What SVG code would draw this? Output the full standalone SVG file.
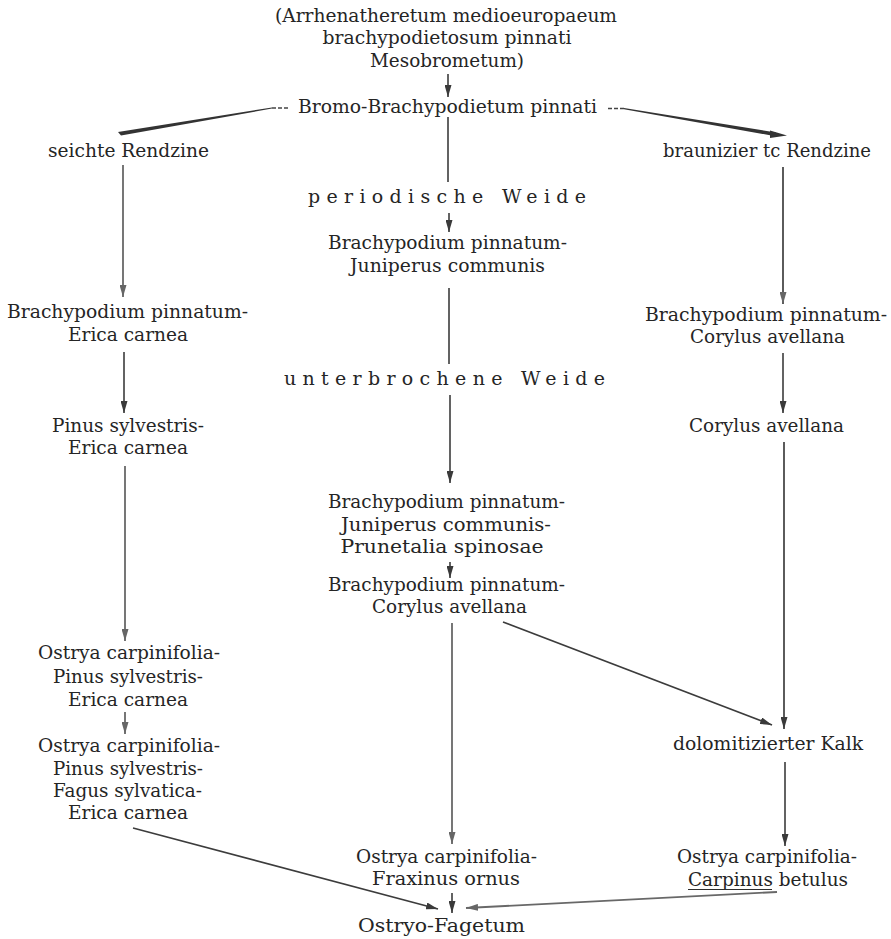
<svg xmlns="http://www.w3.org/2000/svg" width="891" height="939" viewBox="0 0 891 939">
<defs>
<style>
text{font-family:"DejaVu Serif","Liberation Serif",serif;font-size:19px;fill:#252525;text-anchor:middle}
.c{stroke:#3c3c3c;stroke-width:1.6;fill:none}
.l{stroke:#686868;stroke-width:1.8;fill:none}
.r{stroke:#4a4a4a;stroke-width:1.8;fill:none}
.w{fill:#333;stroke:none}
</style>
<marker id="ah" markerUnits="userSpaceOnUse" markerWidth="13" markerHeight="7" refX="12" refY="3.5" orient="auto">
<path d="M0,0 L12,3.5 L0,7 z" fill="#3a3a3a"/>
</marker>
<marker id="ahl" markerUnits="userSpaceOnUse" markerWidth="13" markerHeight="7" refX="12" refY="3.5" orient="auto">
<path d="M0,0 L12,3.5 L0,7 z" fill="#666"/>
</marker>
</defs>
<rect width="891" height="939" fill="#ffffff"/>

<g id="connectors">
<line class="c" x1="448" y1="74" x2="448" y2="97" marker-end="url(#ah)"/>
<line x1="272" y1="108" x2="288" y2="108" stroke="#444" stroke-width="1.3" stroke-dasharray="4,2"/>
<polygon class="w" points="272,107.4 272,108.6 121,135.5 118,132"/>
<line x1="608" y1="108.5" x2="624" y2="108.5" stroke="#444" stroke-width="1.3" stroke-dasharray="4,2"/>
<polygon class="w" points="624,108 624,109.2 774,136 776,132.5"/>
<polygon class="w" points="770,130.5 787,135.5 770,138"/>
<line class="c" x1="448" y1="117" x2="448" y2="182"/>
<line class="c" x1="449" y1="213" x2="449" y2="232" marker-end="url(#ah)"/>
<line class="c" x1="449" y1="288" x2="449" y2="364"/>
<line class="c" x1="450" y1="395" x2="450" y2="483" marker-end="url(#ah)"/>
<line class="c" x1="450" y1="562" x2="450" y2="578" marker-end="url(#ah)"/>
<line class="l" x1="452" y1="623" x2="452" y2="844" marker-end="url(#ahl)"/>
<line class="c" x1="503" y1="622" x2="772" y2="725" marker-end="url(#ah)"/>
<line class="l" x1="123" y1="165" x2="123" y2="297" marker-end="url(#ahl)"/>
<line class="c" x1="124" y1="352" x2="124" y2="413" marker-end="url(#ah)"/>
<line class="l" x1="125" y1="466" x2="125" y2="641" marker-end="url(#ahl)"/>
<line class="l" x1="125" y1="712" x2="125" y2="734" marker-end="url(#ahl)"/>
<line class="c" x1="133" y1="828" x2="438" y2="909" marker-end="url(#ah)"/>
<line class="r" x1="783" y1="167" x2="783" y2="304" marker-end="url(#ahl)"/>
<line class="c" x1="783" y1="353" x2="783" y2="413" marker-end="url(#ah)"/>
<line class="r" x1="784" y1="442" x2="784" y2="729" marker-end="url(#ah)"/>
<line class="c" x1="785" y1="762" x2="785" y2="846" marker-end="url(#ah)"/>
<line class="l" x1="777" y1="892" x2="466" y2="908" marker-end="url(#ahl)"/>
<line class="c" x1="452" y1="893" x2="452" y2="913" marker-end="url(#ah)"/>
</g>

<g id="n-arrhenatheretum">
<text x="446" y="22" textLength="342" lengthAdjust="spacingAndGlyphs">(Arrhenatheretum medioeuropaeum</text>
<text x="447" y="44" textLength="249" lengthAdjust="spacingAndGlyphs">brachypodietosum pinnati</text>
<text x="447" y="67" textLength="154" lengthAdjust="spacingAndGlyphs">Mesobrometum)</text>
</g>
<g id="n-bromo">
<text x="447.5" y="113" textLength="299" lengthAdjust="spacingAndGlyphs">Bromo-Brachypodietum pinnati</text>
</g>
<g id="n-seichte">
<text x="128.5" y="157" textLength="161" lengthAdjust="spacingAndGlyphs">seichte Rendzine</text>
</g>
<g id="n-braunizierte">
<text x="767" y="157" textLength="208" lengthAdjust="spacingAndGlyphs">braunizier tc Rendzine</text>
</g>
<g id="n-periodische">
<text x="447" y="203" textLength="278" lengthAdjust="spacing">periodische Weide</text>
</g>
<g id="n-bp-jc">
<text x="447.5" y="249" textLength="239" lengthAdjust="spacingAndGlyphs">Brachypodium pinnatum-</text>
<text x="447.5" y="272" textLength="195" lengthAdjust="spacingAndGlyphs">Juniperus communis</text>
</g>
<g id="n-unterbrochene">
<text x="444.5" y="385" textLength="321" lengthAdjust="spacing">unterbrochene Weide</text>
</g>
<g id="n-bp-jc-ps">
<text x="446.5" y="508" textLength="237" lengthAdjust="spacingAndGlyphs">Brachypodium pinnatum-</text>
<text x="446" y="531" textLength="210" lengthAdjust="spacingAndGlyphs">Juniperus communis-</text>
<text x="442" y="553" textLength="203" lengthAdjust="spacingAndGlyphs">Prunetalia spinosae</text>
</g>
<g id="n-bp-ca-mid">
<text x="446.5" y="591" textLength="237" lengthAdjust="spacingAndGlyphs">Brachypodium pinnatum-</text>
<text x="449.5" y="613" textLength="155" lengthAdjust="spacingAndGlyphs">Corylus avellana</text>
</g>
<g id="n-bp-ec">
<text x="127.5" y="318" textLength="241" lengthAdjust="spacingAndGlyphs">Brachypodium pinnatum-</text>
<text x="128" y="341" textLength="120" lengthAdjust="spacingAndGlyphs">Erica carnea</text>
</g>
<g id="n-ps-ec">
<text x="128" y="432" textLength="152" lengthAdjust="spacingAndGlyphs">Pinus sylvestris-</text>
<text x="128" y="454" textLength="120" lengthAdjust="spacingAndGlyphs">Erica carnea</text>
</g>
<g id="n-oc-ps-ec">
<text x="129" y="659" textLength="182" lengthAdjust="spacingAndGlyphs">Ostrya carpinifolia-</text>
<text x="128" y="683" textLength="150" lengthAdjust="spacingAndGlyphs">Pinus sylvestris-</text>
<text x="128" y="706" textLength="120" lengthAdjust="spacingAndGlyphs">Erica carnea</text>
</g>
<g id="n-oc-ps-fs-ec">
<text x="129" y="752" textLength="182" lengthAdjust="spacingAndGlyphs">Ostrya carpinifolia-</text>
<text x="128" y="775" textLength="150" lengthAdjust="spacingAndGlyphs">Pinus sylvestris-</text>
<text x="127.5" y="797" textLength="149" lengthAdjust="spacingAndGlyphs">Fagus sylvatica-</text>
<text x="128" y="819" textLength="120" lengthAdjust="spacingAndGlyphs">Erica carnea</text>
</g>
<g id="n-bp-ca-right">
<text x="766" y="321" textLength="242" lengthAdjust="spacingAndGlyphs">Brachypodium pinnatum-</text>
<text x="767.5" y="343" textLength="155" lengthAdjust="spacingAndGlyphs">Corylus avellana</text>
</g>
<g id="n-ca">
<text x="766.5" y="432" textLength="155" lengthAdjust="spacingAndGlyphs">Corylus avellana</text>
</g>
<g id="n-dolomit">
<text x="768" y="750" textLength="190" lengthAdjust="spacingAndGlyphs">dolomitizierter Kalk</text>
</g>
<g id="n-oc-fo">
<text x="446.5" y="863" textLength="181" lengthAdjust="spacingAndGlyphs">Ostrya carpinifolia-</text>
<text x="446" y="885" textLength="148" lengthAdjust="spacingAndGlyphs">Fraxinus ornus</text>
</g>
<g id="n-oc-cb">
<text x="767" y="863" textLength="180" lengthAdjust="spacingAndGlyphs">Ostrya carpinifolia-</text>
<text x="768" y="886" textLength="160" lengthAdjust="spacingAndGlyphs">Carpinus betulus</text>
<line x1="688" y1="889.5" x2="772" y2="889.5" stroke="#2e2e2e" stroke-width="1.2"/>
</g>
<g id="n-ostryo-fagetum">
<text x="441.5" y="932" textLength="167" lengthAdjust="spacingAndGlyphs">Ostryo-Fagetum</text>
</g>
</svg>
